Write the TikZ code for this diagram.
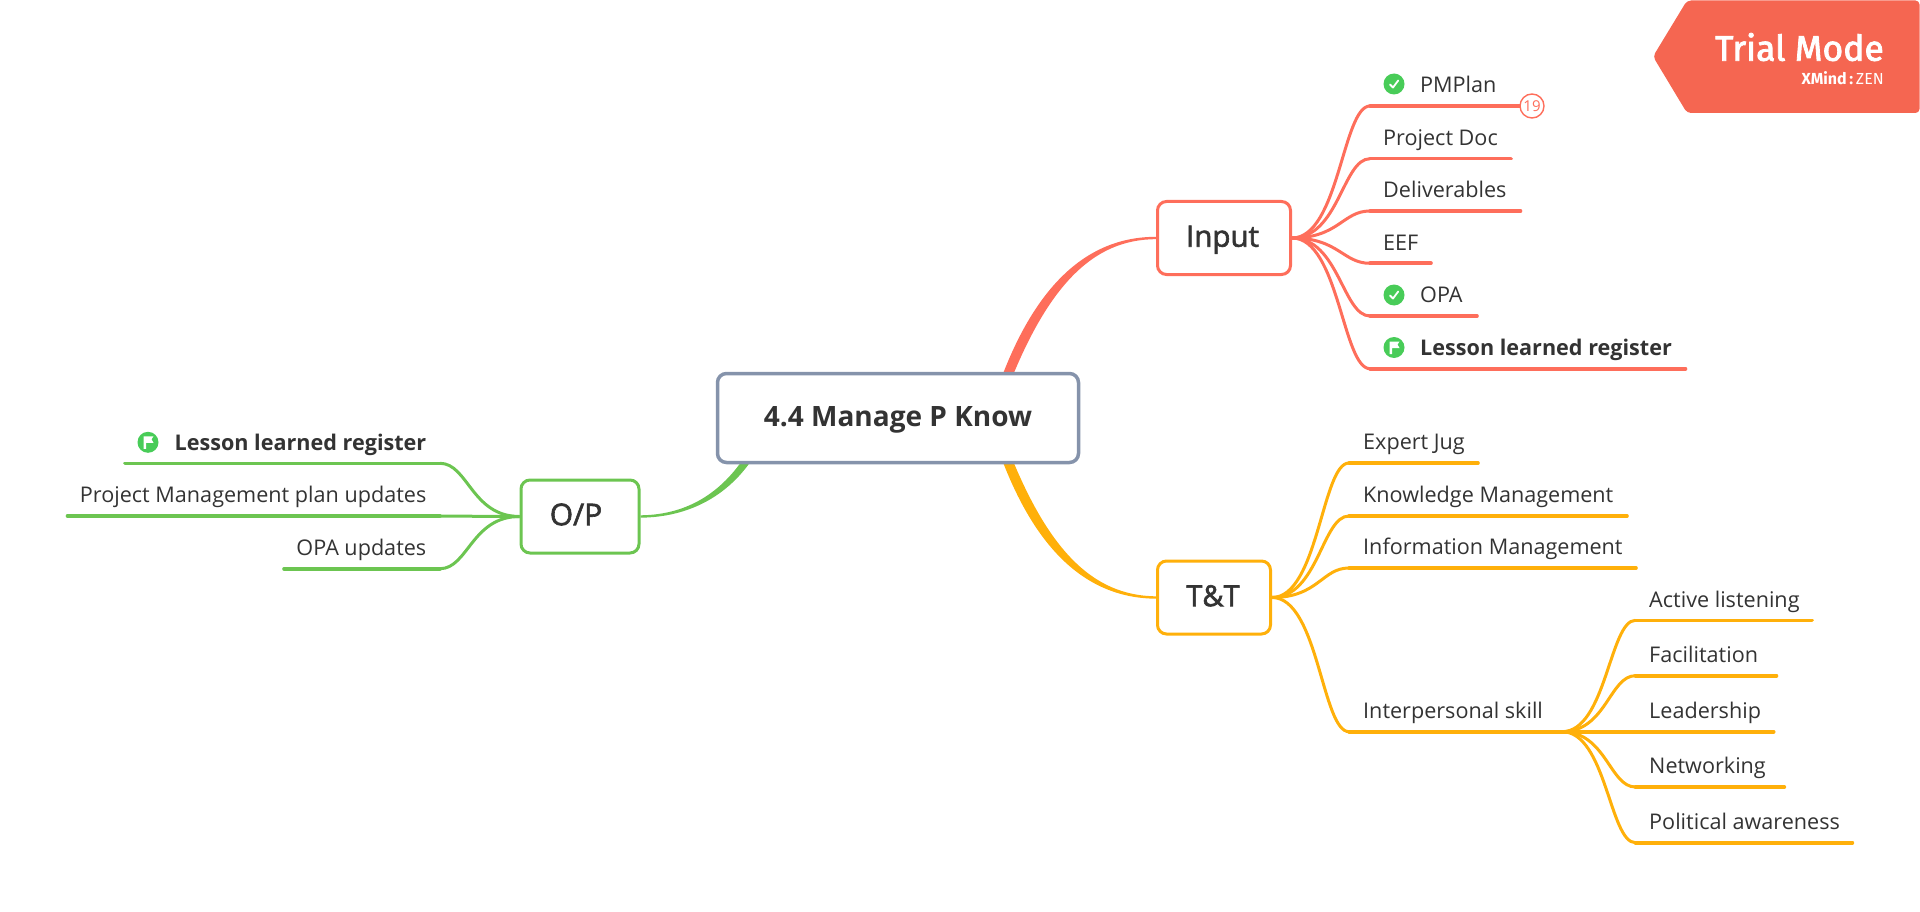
\documentclass[tikz,border=0pt]{standalone}
\usepackage{fontspec}
\setmainfont{Open Sans}
\newfontfamily\trialfont{Fira Sans}
\usetikzlibrary{calc,backgrounds}
\definecolor{redc}{HTML}{FE6E5B}
\definecolor{yelc}{HTML}{FFB00A}
\definecolor{grnc}{HTML}{6CC551}
\definecolor{cenc}{HTML}{8593AB}
\definecolor{txtc}{HTML}{333333}
\definecolor{badgec}{HTML}{F56651}
\definecolor{icong}{HTML}{48CC58}
\newcommand{\heavier}[2]{\special{pdf:code 2 Tr #1 w}#2\special{pdf:code 0 Tr 1 w}}
\tikzset{
  x=1pt,y=-1pt,
  mainbox/.style={draw,fill=white,rounded corners=9pt,line width=3pt,inner sep=0pt,text=txtc,text height=22pt,text depth=4.6pt,align=center},
  lbl/.style={inner sep=0pt,text=txtc,font=\fontsize{21.6}{26}\selectfont},
  under/.style={line width=3.6pt,line cap=round},
  curve/.style={line width=3pt},
  iconb/.style={circle,fill=icong,minimum size=21pt,inner sep=0pt},
}
% colour, fork, name, elbow x, line y, end x, text x, anchor, text
\newcommand{\tpc}[9]{%
  \coordinate (#3-e) at (#4,#5);
  \coordinate (#3-r) at (#6,#5);
  \node[lbl,anchor=base #8] (#3) at (#7,{#5-13.2}) {#9};
  \begin{scope}[on background layer]
    \draw[under,#1] (#3-e) -- (#3-r);
    \draw[curve,#1] (#2) .. controls ($(#2)!0.6!(#3-e |- #2)$) and ($(#3-e)!0.35!(#2 |- #3-e)$) .. (#3-e);
  \end{scope}
}
\newcommand{\chkicon}[3]{%
  \node[iconb] (#1) at (#2,#3) {};
  \draw[white,line width=1.8pt,line cap=round,line join=round] ($(#1)+(-4,0.5)$) -- ($(#1)+(-1,3.5)$) -- ($(#1)+(4.2,-3.5)$);
}
\newcommand{\flagicon}[3]{%
  \node[iconb] (#1) at (#2,#3) {};
  \fill[white] ($(#1)+(-4.5,-6)$) -- ($(#1)+(5.5,-6)$) -- ($(#1)+(3.5,-3)$) -- ($(#1)+(5.5,0.5)$) -- ($(#1)+(-2,0.5)$) -- ($(#1)+(-2,6.5)$) -- ($(#1)+(-4.5,6.5)$) -- cycle;
}
\begin{document}
\begin{tikzpicture}
\useasboundingbox (0,0) rectangle (1920,912);

% trial badge
\fill[badgec,rounded corners=4pt] (1653,56.5) -- (1687,0.5) -- (1919.5,0.5) -- (1919.5,113) -- (1687,113) -- cycle;
\node[inner sep=0pt,anchor=base east,text=white] (trial) at (1884,60.7) {\trialfont\fontsize{35.5}{44}\selectfont\heavier{0.8}{Trial Mode}};
\node[inner sep=0pt,anchor=base east,text=white] (xmind) at (1884,85) {\trialfont\fontsize{16}{18}\selectfont\bfseries XMind\,:\,\mdseries ZEN};

% main boxes
\node[mainbox,draw=cenc,line width=3.5pt,minimum width=361pt,minimum height=89pt,font=\fontsize{28}{34}\selectfont\bfseries] (center) at (898,418) {4.4 Manage P Know};
\node[mainbox,draw=redc,minimum width=133pt,minimum height=73pt,font=\fontsize{29.5}{34}\selectfont] (input) at (1224,238) {\hspace*{-3pt}\heavier{0.6}{Input}};
\node[mainbox,draw=yelc,minimum width=113pt,minimum height=73pt,font=\fontsize{29}{34}\selectfont] (tt) at (1214,597.5) {\hspace*{-2pt}\heavier{0.6}{T\&T}};
\node[mainbox,draw=grnc,minimum width=118pt,minimum height=73pt,font=\fontsize{30}{34}\selectfont] (op) at (580,516.5) {\hspace*{-8pt}\heavier{0.6}{O/P}};

% main tapered branches
\begin{scope}[on background layer]
\fill[redc] (input.west) ++(0,-1.2) .. controls (1088,236.8) and (1034,284) .. (997,390) -- (1007,390) .. controls (1047,287) and (1092,239.2) .. ($(input.west)+(0,1.2)$) -- cycle;
\fill[yelc] (tt.west) ++(0,1.2) .. controls (1088,598.2) and (1034,552) .. (997,446) -- (1007,446) .. controls (1047,549) and (1092,595.8) .. ($(tt.west)+(0,-1.2)$) -- cycle;
\fill[grnc] (op.east) ++(0,-1.2) .. controls (690,514.8) and (725,490) .. (749,450) -- (758,450) .. controls (732,495) and (690,517.2) .. ($(op.east)+(0,1.2)$) -- cycle;
\end{scope}

% input children
\tpc{redc}{input.east}{pm}{1370}{106}{1520}{1420}{west}{PMPlan}
\tpc{redc}{input.east}{pdoc}{1370}{158.7}{1511}{1383}{west}{Project Doc}
\tpc{redc}{input.east}{deliv}{1370}{211}{1520.5}{1383}{west}{Deliverables}
\tpc{redc}{input.east}{eef}{1370}{263.3}{1431}{1383}{west}{EEF}
\tpc{redc}{input.east}{opa}{1370}{316}{1477}{1420}{west}{OPA}
\tpc{redc}{input.east}{llr}{1370}{368.7}{1685.5}{1420}{west}{\bfseries Lesson learned register}
\chkicon{ic1}{1394}{84}
\chkicon{ic2}{1394}{295}
\flagicon{ic3}{1394}{347.5}
\node[circle,draw=redc,fill=white,line width=1.4pt,minimum size=24pt,inner sep=0pt,text=redc,font=\fontsize{15}{16}\selectfont] (num) at (1532,106) {19};

% T&T children
\tpc{yelc}{tt.east}{jug}{1349}{463}{1478}{1363}{west}{Expert Jug}
\tpc{yelc}{tt.east}{km}{1349}{516}{1627}{1363}{west}{Knowledge Management}
\tpc{yelc}{tt.east}{im}{1349}{568}{1636}{1363}{west}{Information Management}
\tpc{yelc}{tt.east}{ips}{1349}{731.7}{1635}{1363}{west}{Interpersonal skill}
\coordinate (ipf) at (1562,731.7);
\tpc{yelc}{ipf}{act}{1635.4}{620.3}{1812}{1649}{west}{Active listening}
\tpc{yelc}{ipf}{fac}{1635.4}{675.7}{1776.5}{1649}{west}{Facilitation}
\tpc{yelc}{ipf}{lead}{1635.4}{731.7}{1773.7}{1649}{west}{Leadership}
\tpc{yelc}{ipf}{net}{1635.4}{787}{1784.4}{1649}{west}{Networking}
\tpc{yelc}{ipf}{pol}{1635.4}{842.7}{1852.4}{1649}{west}{Political awareness}

% O/P children
\tpc{grnc}{op.west}{oll}{440}{463.3}{125}{426.5}{east}{\bfseries Lesson learned register}
\tpc{grnc}{op.west}{pmu}{440}{516}{67.5}{426.5}{east}{Project Management plan updates}
\tpc{grnc}{op.west}{opu}{440}{568.7}{284}{426.5}{east}{OPA updates}
\flagicon{ic4}{148}{442.3}
\end{tikzpicture}
\end{document}
